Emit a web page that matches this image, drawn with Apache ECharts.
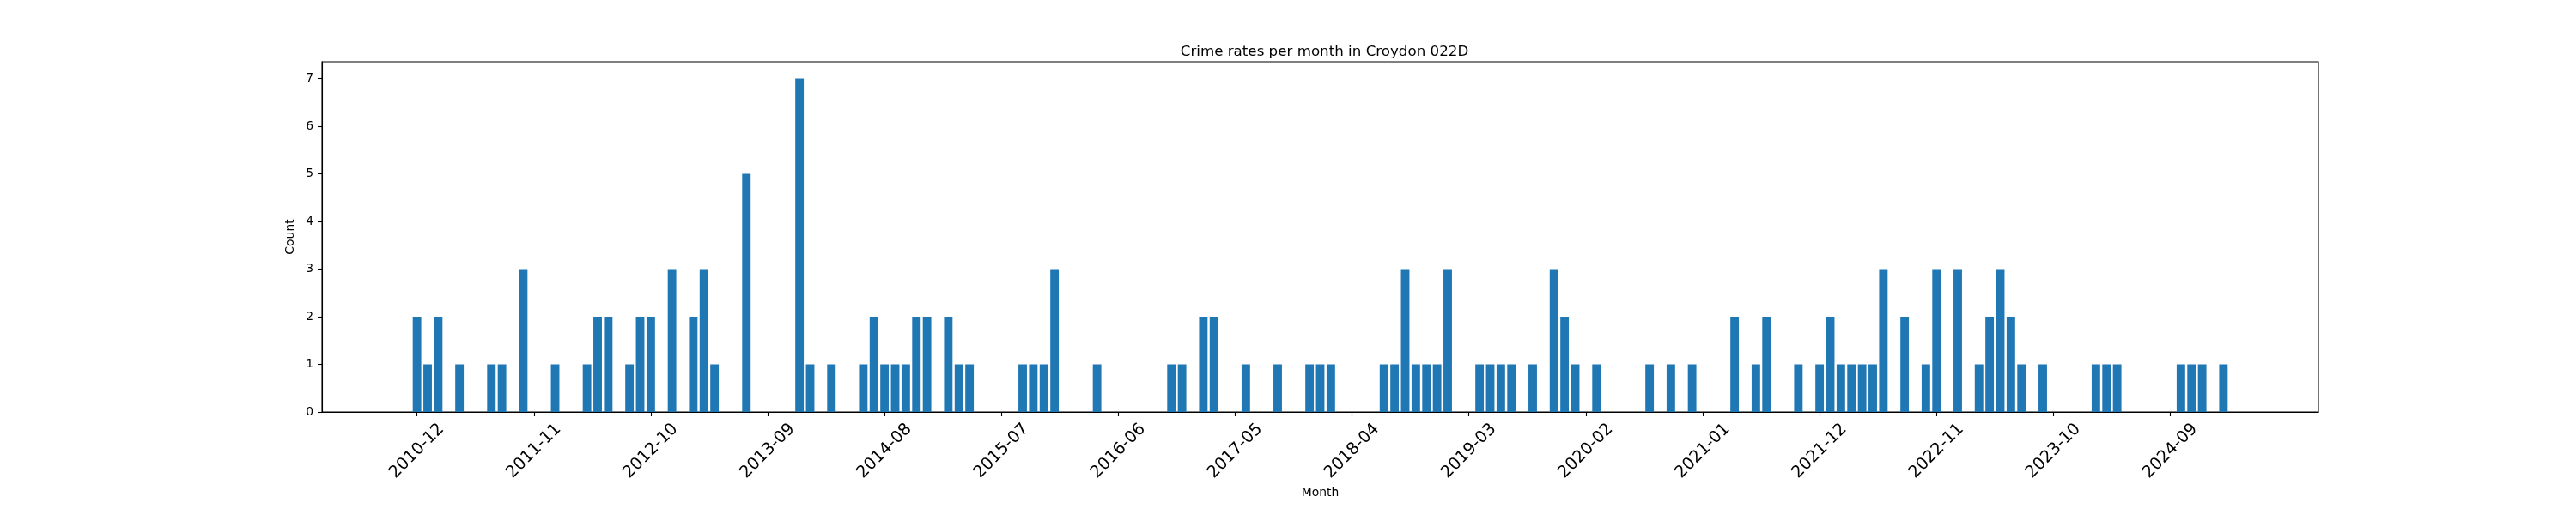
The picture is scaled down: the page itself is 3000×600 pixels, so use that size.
<html>
<head>
<meta charset="UTF-8">
<script src="https://cdn.jsdelivr.net/npm/echarts@6/dist/echarts.min.js"></script>
<style type="text/css">
html,body{margin:0;padding:0;background:#fff;}
#chart{width:3000px;height:600px;}
</style>
</head>
<body>
<div id="chart"></div>
<script type="text/javascript">
// months that had crimes recorded, and the count for each
var months=['2010-12','2011-01','2011-02','2011-04','2011-07','2011-08','2011-10',
	'2012-01','2012-04','2012-05','2012-06','2012-08','2012-09','2012-10','2012-12',
	'2013-02','2013-03','2013-04','2013-07','2013-12',
	'2014-01','2014-03','2014-06','2014-07','2014-08','2014-09','2014-10','2014-11','2014-12',
	'2015-02','2015-03','2015-04','2015-09','2015-10','2015-11','2015-12',
	'2016-04','2016-11','2016-12',
	'2017-02','2017-03','2017-06','2017-09','2017-12',
	'2018-01','2018-02','2018-07','2018-08','2018-09','2018-10','2018-11','2018-12',
	'2019-01','2019-04','2019-05','2019-06','2019-07','2019-09','2019-11','2019-12',
	'2020-01','2020-03','2020-08','2020-10','2020-12',
	'2021-04','2021-06','2021-07','2021-10','2021-12',
	'2022-01','2022-02','2022-03','2022-04','2022-05','2022-06','2022-08','2022-10','2022-11',
	'2023-01','2023-03','2023-04','2023-05','2023-06','2023-07','2023-09',
	'2024-02','2024-03','2024-04','2024-10','2024-11','2024-12',
	'2025-02'];
var counts=[2,1,2,1,1,1,3,
	1,1,2,2,1,2,2,3,
	2,3,1,5,7,
	1,1,1,2,1,1,1,2,2,
	2,1,1,1,1,1,3,
	1,1,1,
	2,2,1,1,1,
	1,1,1,1,3,1,1,1,
	3,1,1,1,1,1,3,2,
	1,1,1,1,1,
	2,1,2,1,1,
	2,1,1,1,1,3,2,1,3,
	3,1,2,3,2,1,1,
	1,1,1,1,1,1,
	1];
var tickLabels=['2010-12','2011-11','2012-10','2013-09','2014-08','2015-07','2016-06','2017-05',
	'2018-04','2019-03','2020-02','2021-01','2021-12','2022-11','2023-10','2024-09'];
var yTicks=[0,1,2,3,4,5,6,7];

// month string -> number of months since the first one
function monthIndex(s){
	var y=Number(s.substr(0,4)),m=Number(s.substr(5,2));
	return (y-2010)*12+(m-12);
}
var barData=[];
for(var i=0;i<months.length;i++){
	barData.push([monthIndex(months[i]),counts[i]]);
}
var tickPos=[];
var labelAt={};
for(var i=0;i<tickLabels.length;i++){
	var p=monthIndex(tickLabels[i]);
	tickPos.push(p);
	labelAt[p]=tickLabels[i];
}
// matplotlib style 5% margins around bars of width 0.8
var lo=barData[0][0]-0.4,hi=barData[barData.length-1][0]+0.4;
var xmin=lo-0.05*(hi-lo),xmax=hi+0.05*(hi-lo);

var myChart=echarts.init(document.getElementById('chart'));
var font='DejaVu Sans';
var option={
	animation:false,
	textStyle:{fontFamily:font},
	title:{
		text:'Crime rates per month in Croydon 022D',
		left:1537.5,
		top:47,
		textAlign:'center',
		textStyle:{fontFamily:font,fontSize:16.7,fontWeight:'normal',color:'#000'}
	},
	grid:{left:375,right:300,top:72,bottom:120,show:true,borderColor:'#000',borderWidth:1.1,backgroundColor:'#fff'},
	xAxis:{
		type:'value',
		min:xmin,
		max:xmax,
		name:'Month',
		nameLocation:'middle',
		nameGap:91.7,
		nameTextStyle:{fontFamily:font,fontSize:13.9,color:'#000',verticalAlign:'middle'},
		splitLine:{show:false},
		axisLine:{show:true,onZero:false,lineStyle:{color:'#000',width:1.1}},
		axisTick:{show:true,length:5,lineStyle:{color:'#000',width:1.1},customValues:tickPos},
		axisLabel:{
			customValues:tickPos,
			rotate:45,
			align:'center',
			verticalAlign:'middle',
			margin:45.5,
			fontFamily:font,
			fontSize:19.4,
			color:'#000',
			formatter:function(v){return labelAt[v]||'';}
		}
	},
	yAxis:{
		type:'value',
		min:0,
		max:7.35,
		name:'Count',
		nameLocation:'middle',
		nameGap:32.7,
		nameTextStyle:{fontFamily:font,fontSize:13.9,color:'#000',verticalAlign:'middle'},
		splitLine:{show:false},
		axisLine:{show:true,onZero:false,lineStyle:{color:'#000',width:1.1}},
		axisTick:{show:true,length:5,lineStyle:{color:'#000',width:1.1},customValues:yTicks},
		axisLabel:{customValues:yTicks,margin:10,fontFamily:font,fontSize:13.9,color:'#000'}
	},
	series:[{
		type:'bar',
		data:barData,
		barWidth:'80%',
		itemStyle:{color:'#1f77b4'}
	}]
};
myChart.setOption(option);
</script>
</body>
</html>
